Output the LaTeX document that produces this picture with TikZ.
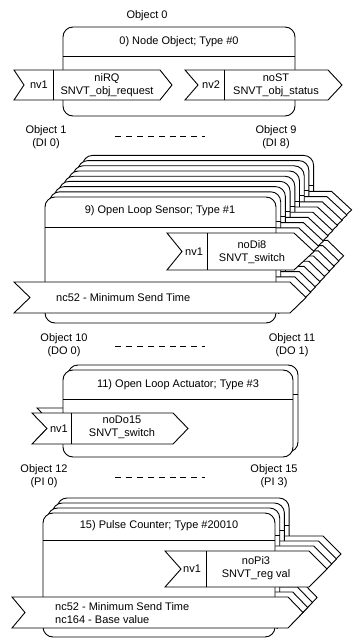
\documentclass[tikz,border=0pt]{standalone}
\usepackage{fontspec}
\setmainfont{Liberation Sans}
\tikzset{
  outl/.style  ={draw=black, fill=white, line width=0.9pt, line join=miter},
  frame/.style ={outl, rounded corners=10pt},
  txt/.style   ={font=\fontsize{11}{13}\selectfont, inner sep=0pt, align=center},
  gap/.style   ={line width=0.9pt, dash pattern=on 6pt off 4.9pt}
}
% chevron: left, notch, top, bottom, body end, tip
\newcommand{\chev}[6]{\filldraw[outl] (#1,#3) -- (#5,#3) -- (#6,{(#3+#4)/2}) -- (#5,#4) -- (#1,#4) -- (#2,{(#3+#4)/2}) -- cycle;}
% network variable: chevron plus divider at #5
\newcommand{\nvchev}[7]{\chev{#1}{#2}{#3}{#4}{#6}{#7}\draw[outl] (#5,#3) -- (#5,#4);}
\newcommand{\objframe}[5]{\draw[frame] (#1,#2) rectangle (#3,#4);\draw[outl] (#1,#5) -- (#3,#5);}

\newcommand{\sensorcopy}{%
  \objframe{45}{197}{276}{323}{227}
  \nvchev{167}{182}{233}{270}{207}{294}{314}
  \chev{14}{30}{282}{313}{290}{306}}
\newcommand{\actcopy}{%
  \objframe{63}{370}{293}{457}{399}
  \nvchev{32}{47}{413}{444}{71}{173}{188}}
\newcommand{\pulsecopy}{%
  \objframe{43}{513}{275}{637}{540}
  \nvchev{165}{181}{551}{587}{206}{309}{327}
  \chev{12}{25}{597}{628}{288}{303}}

\begin{document}
\begin{tikzpicture}[x=1pt, y=-1pt]
  \useasboundingbox (0,0) rectangle (360,639);

  % node object
  \node[txt] (obj0) at (147,16) {Object 0};
  \objframe{63}{27}{295}{116}{56}
  \node[txt] (nodeobj) at (179,42) {0) Node Object; Type \#0};
  \nvchev{14}{24}{70}{100}{53}{160}{172}
  \nvchev{185}{198}{70}{100}{224}{328}{342}
  \node[txt] (nvA) at (39,85) {nv1};
  \node[txt] (nirq) at (107,85) {niRQ\\SNVT\_obj\_request};
  \node[txt] (nvB) at (211,85) {nv2};
  \node[txt] (nost) at (276,85) {noST\\SNVT\_obj\_status};

  % open loop sensors
  \node[txt] (obj1) at (46,137.5) {Object 1\\(DI 0)};
  \node[txt] (obj9) at (276,137.5) {Object 9\\(DI 8)};
  \draw[gap] (115,136) -- (205,136);
  \begin{scope}
    \clip (45,0) rectangle (360,313);
    \foreach \k in {8,7,...,1}{
      \begin{scope}[shift={(4.7*\k,-5.2*\k)}] \sensorcopy \end{scope}}
  \end{scope}
  \sensorcopy
  \node[txt] (sensor) at (160,211) {9) Open Loop Sensor; Type \#1};
  \node[txt] (nvS) at (194,251.5) {nv1};
  \node[txt] (nodi) at (252,252) {noDi8\\SNVT\_switch};
  \node[txt, anchor=west] (ncS) at (56,297.5) {nc52 - Minimum Send Time};

  % open loop actuators
  \node[txt] (obj10) at (64,345) {Object 10\\(DO 0)};
  \node[txt] (obj11) at (292,345) {Object 11\\(DO 1)};
  \draw[gap] (115,346) -- (205,346);
  \begin{scope}[shift={(5,-5)}] \actcopy \end{scope}
  \actcopy
  \node[txt] (actuator) at (178,385) {11) Open Loop Actuator; Type \#3};
  \node[txt] (nvD) at (59,428.5) {nv1};
  \node[txt] (nodo) at (122,427.5) {noDo15\\SNVT\_switch};

  % pulse counters
  \node[txt] (obj12) at (44,476.5) {Object 12\\(PI 0)};
  \node[txt] (obj15) at (274,476.5) {Object 15\\(PI 3)};
  \draw[gap] (115,477) -- (205,477);
  \begin{scope}
    \clip (43,0) rectangle (360,628);
    \foreach \k in {3,2,1}{
      \begin{scope}[shift={(4.7*\k,-5*\k)}] \pulsecopy \end{scope}}
  \end{scope}
  \pulsecopy
  \node[txt] (pulse) at (159,526) {15) Pulse Counter; Type \#20010};
  \node[txt] (nvP) at (192,569) {nv1};
  \node[txt] (nopi) at (256,568) {noPi3\\SNVT\_reg val};
  \node[txt, anchor=west, align=left] (ncP) at (55,613.5) {nc52 - Minimum Send Time\\nc164 - Base value};
\end{tikzpicture}
\end{document}
